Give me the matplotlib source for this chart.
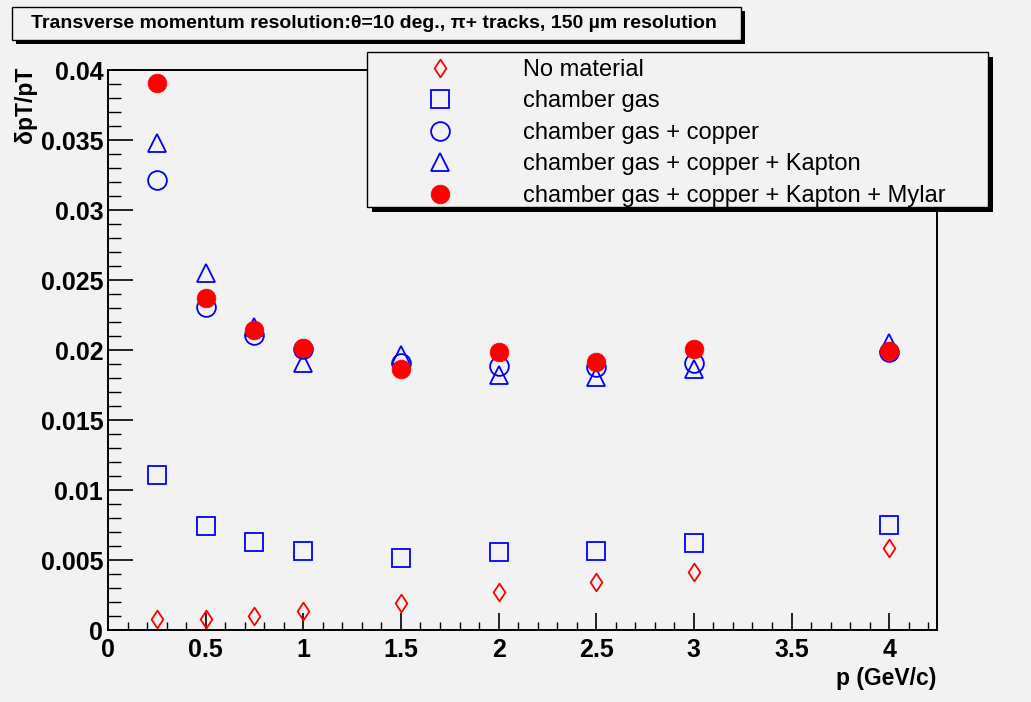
import matplotlib
matplotlib.use("Agg")
import matplotlib.pyplot as plt
from matplotlib.patches import Rectangle
from matplotlib.path import Path
from matplotlib.ticker import MultipleLocator, FuncFormatter

# ---------------- data ----------------
p_values = [0.25, 0.5, 0.75, 1.0, 1.5, 2.0, 2.5, 3.0, 4.0]
no_material = [0.00079, 0.00079, 0.00102, 0.00138, 0.00195, 0.00274, 0.00341, 0.00412, 0.00584]
chamber_gas = [0.01107, 0.00743, 0.00629, 0.00564, 0.00514, 0.00557, 0.00566, 0.00619, 0.00750]
gas_copper = [0.03214, 0.02309, 0.02107, 0.02005, 0.01905, 0.01888, 0.01881, 0.01905, 0.01984]
gas_copper_kapton = [0.03476, 0.02548, 0.02166, 0.01905, 0.01964, 0.01821, 0.01809, 0.01862, 0.02048]
gas_copper_kapton_mylar = [0.03909, 0.02371, 0.02143, 0.02012, 0.01862, 0.01984, 0.01916, 0.02005, 0.01993]

series_labels = ["No material", "chamber gas", "chamber gas + copper",
                 "chamber gas + copper + Kapton", "chamber gas + copper + Kapton + Mylar"]
title_text = "Transverse momentum resolution:\u03b8=10 deg., \u03c0+ tracks, 150 \u00b5m resolution"
x_label = "p (GeV/c)"
y_label = "\u03b4pT/pT"

# ---------------- style ----------------
W, H = 1031, 702
BG = "#f2f2f2"
plt.rcParams["font.family"] = ["Liberation Sans", "DejaVu Sans"]

fig = plt.figure(figsize=(W / 100, H / 100), dpi=100, facecolor=BG)

def fx(px):
    return px / W

def fy(py):
    return 1 - py / H

ax_l, ax_r, ax_t, ax_b = 108, 937, 70, 630
ax = fig.add_axes([fx(ax_l), fy(ax_b), fx(ax_r - ax_l), (ax_b - ax_t) / H])
ax.set_facecolor(BG)

thin_diamond = Path([(0, 1), (0.66, 0), (0, -1), (-0.66, 0), (0, 1)],
                    [Path.MOVETO, Path.LINETO, Path.LINETO, Path.LINETO, Path.CLOSEPOLY])

red, blue = "#ff0000", "#0000ff"
mew = 1.3
h1, = ax.plot(p_values, no_material, linestyle="none", marker=thin_diamond, ms=12.8,
              mfc="none", mec=red, mew=mew, label=series_labels[0])
h2, = ax.plot(p_values, chamber_gas, linestyle="none", marker="s", ms=13,
              mfc="none", mec=blue, mew=mew, label=series_labels[1])
h3, = ax.plot(p_values, gas_copper, linestyle="none", marker="o", ms=13.5,
              mfc="none", mec=blue, mew=mew, label=series_labels[2])
h4, = ax.plot(p_values, gas_copper_kapton, linestyle="none", marker="^", ms=13.5,
              mfc="none", mec=blue, mew=mew, label=series_labels[3])
h5, = ax.plot(p_values, gas_copper_kapton_mylar, linestyle="none", marker="o", ms=13.5,
              mfc=red, mec=red, mew=0.5, label=series_labels[4])

ax.set_xlim(0, 4.245)
ax.set_ylim(0, 0.04)
ax.xaxis.set_major_locator(MultipleLocator(0.5))
ax.xaxis.set_minor_locator(MultipleLocator(0.1))
ax.yaxis.set_major_locator(MultipleLocator(0.005))
ax.yaxis.set_minor_locator(MultipleLocator(0.001))

def fmt(v, pos):
    return f"{v:.3f}".rstrip("0").rstrip(".")

ax.xaxis.set_major_formatter(FuncFormatter(fmt))
ax.yaxis.set_major_formatter(FuncFormatter(fmt))

for sp in ax.spines.values():
    sp.set_linewidth(1.4)
    sp.set_color("black")

ax.tick_params(axis="both", which="both", direction="in", top=False, right=False, color="black")
ax.tick_params(axis="y", which="major", length=18, width=1.2, pad=3.5, labelsize=18)
ax.tick_params(axis="y", which="minor", length=9, width=1.0)
ax.tick_params(axis="x", which="major", length=12, width=1.2, pad=6, labelsize=18)
ax.tick_params(axis="x", which="minor", length=6, width=1.0)
for lab in ax.get_xticklabels() + ax.get_yticklabels():
    lab.set_fontweight("bold")

# axis titles
fig.text(fx(936), fy(678), x_label, ha="right", va="center", fontsize=16.5, fontweight="bold")
fig.text(fx(25), fy(67), y_label, ha="center", va="top", rotation=90, fontsize=16.5, fontweight="bold")

# ---------------- title box ----------------
def shadow_box(x0, y0, x1, y1, off, z):
    sh = Rectangle((fx(x0 + off), fy(y1 + off)), fx(x1 - x0), (y1 - y0) / H,
                   transform=fig.transFigure, facecolor="black", edgecolor="none", zorder=z)
    bx = Rectangle((fx(x0), fy(y1)), fx(x1 - x0), (y1 - y0) / H,
                   transform=fig.transFigure, facecolor=BG, edgecolor="black", lw=1.0, zorder=z + 0.1)
    fig.add_artist(sh)
    fig.add_artist(bx)

shadow_box(12, 7, 741, 40, 4, 5)
fig.text(fx(374), fy(24), title_text, ha="center", va="center", fontsize=14,
         fontweight="bold", zorder=6)

# ---------------- legend ----------------
shadow_box(367, 52, 988, 207, 5, 10)
leg = fig.legend([h1, h2, h3, h4, h5], series_labels, loc="upper left",
                 bbox_to_anchor=(fx(419), fy(59)), bbox_transform=fig.transFigure,
                 frameon=False, fontsize=17, numpoints=1, handlelength=1.78,
                 handletextpad=2.63, labelspacing=0.40, borderpad=0, borderaxespad=0)
leg.set_zorder(12)

fig.savefig("out.png", dpi=100, facecolor=BG)
